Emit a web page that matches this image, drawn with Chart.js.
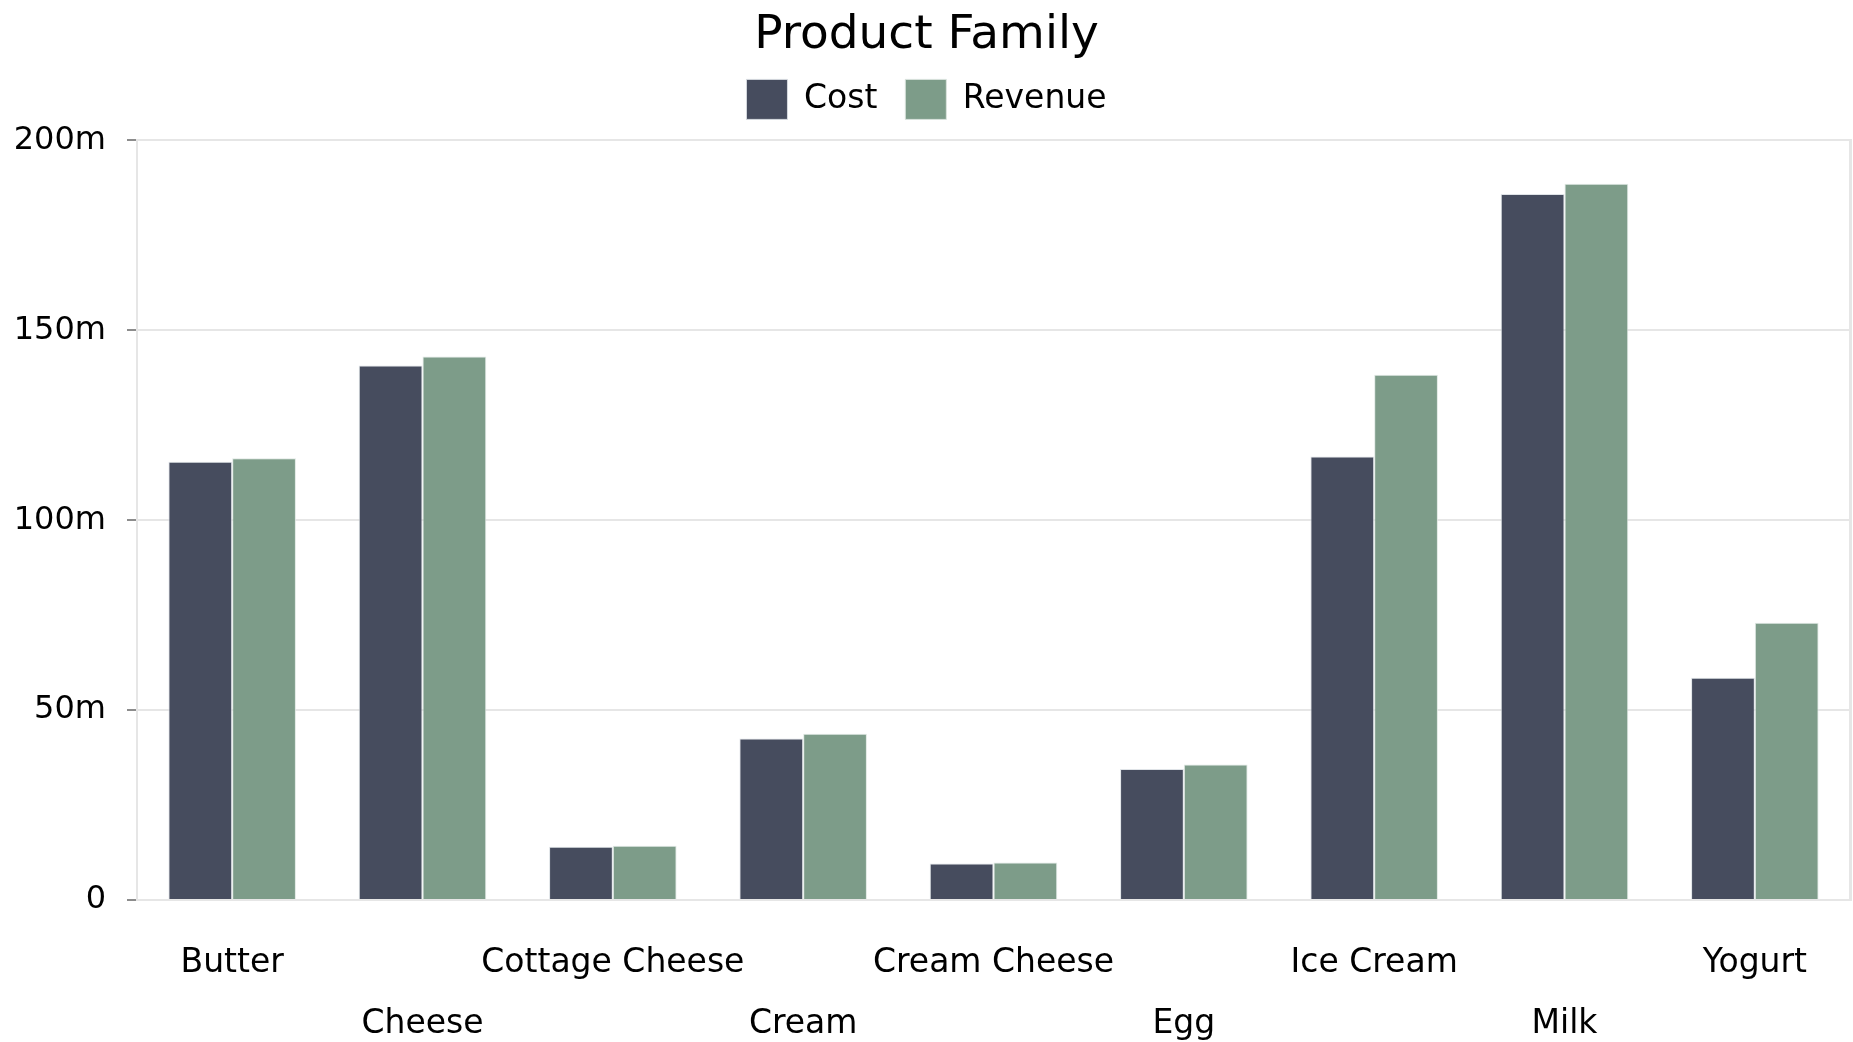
<!DOCTYPE html>
<html>
<head>
<meta charset="utf-8">
<title>Product Family</title>
<script src="https://cdn.jsdelivr.net/npm/chart.js@4"></script>
<style>
  html, body { margin: 0; padding: 0; background: #fff; }
  #wrap { width: 1853px; height: 1042px; }
</style>
</head>
<body>
<div id="wrap"><canvas id="familyChart"></canvas></div>
<script>
// product families and their totals (millions)
const families = ['Butter', 'Cheese', 'Cottage Cheese', 'Cream', 'Cream Cheese', 'Egg', 'Ice Cream', 'Milk', 'Yogurt'];
const cost =    [115.4, 140.7, 14.0, 42.5,  9.6, 34.5, 116.8, 185.9, 58.5];
const revenue = [116.3, 143.1, 14.3, 43.8,  9.9, 35.7, 138.3, 188.6, 73.0];
const yTicks = [0, 50, 100, 150, 200];

const gridGrey = '#e6e6e6';
const font = 'DejaVu Sans, Verdana, sans-serif';

const ctx = document.getElementById('familyChart').getContext('2d');
const familyChart = new Chart(ctx, {
    type: 'bar',
    data: {
        labels: families,
        datasets: [{
            label: 'Cost',
            data: cost,
            backgroundColor: '#464c5e',
            borderColor: 'rgba(220,224,228,0.9)',
            borderWidth: 1
        }, {
            label: 'Revenue',
            data: revenue,
            backgroundColor: '#7d9c89',
            borderColor: 'rgba(220,228,224,0.9)',
            borderWidth: 1
        }]
    },
    options: {
        responsive: true,
        maintainAspectRatio: false,
        animation: false,
        datasets: {
            bar: { categoryPercentage: 0.67, barPercentage: 1.0 }
        },
        layout: { padding: { left: 0, right: 0, top: 4, bottom: 0 } },
        plugins: {
            title: {
                display: true,
                text: 'Product Family',
                color: '#000',
                font: { family: font, size: 47, weight: 'normal' },
                padding: { top: 4, bottom: -13 }
            },
            legend: {
                position: 'top',
                labels: {
                    color: '#000',
                    font: { family: font, size: 33 },
                    boxWidth: 41,
                    boxHeight: 40,
                    padding: 28
                }
            },
            tooltip: { enabled: false }
        },
        scales: {
            x: {
                grid: { display: false },
                border: { color: gridGrey, width: 2 },
                afterFit: axis => { axis.height = 142; },
                ticks: {
                    color: '#000',
                    autoSkip: false,
                    maxRotation: 0,
                    padding: 25,
                    font: { family: font, size: 33, lineHeight: 1.85 },
                    // alternate labels drop to a second row
                    callback: (v, i) => i % 2 === 0 ? [families[i], ''] : ['', families[i]]
                }
            },
            // empty strip between the legend and the plot
            gap: {
                position: 'top',
                afterFit: axis => { axis.height = 11; },
                grid: { display: false },
                border: { display: false },
                ticks: { display: false }
            },
            y: {
                min: 0,
                max: 200,
                afterBuildTicks: axis => { axis.ticks = yTicks.map(v => ({ value: v })); },
                afterFit: axis => { axis.width = 137; },
                grid: {
                    color: gridGrey,
                    lineWidth: 2,
                    tickColor: '#8c8c8c',
                    tickLength: 10,
                    tickWidth: 2
                },
                border: { color: gridGrey, width: 2 },
                ticks: {
                    color: '#000',
                    padding: 21,
                    font: { family: font, size: 32 },
                    callback: v => v === 0 ? '0' : v + 'm'
                }
            },
            right: {
                position: 'right',
                min: 0,
                max: 200,
                afterFit: axis => { axis.width = 3; },
                grid: { display: false },
                border: { color: gridGrey, width: 3 },
                ticks: { display: false }
            }
        }
    }
});
</script>
</body>
</html>
